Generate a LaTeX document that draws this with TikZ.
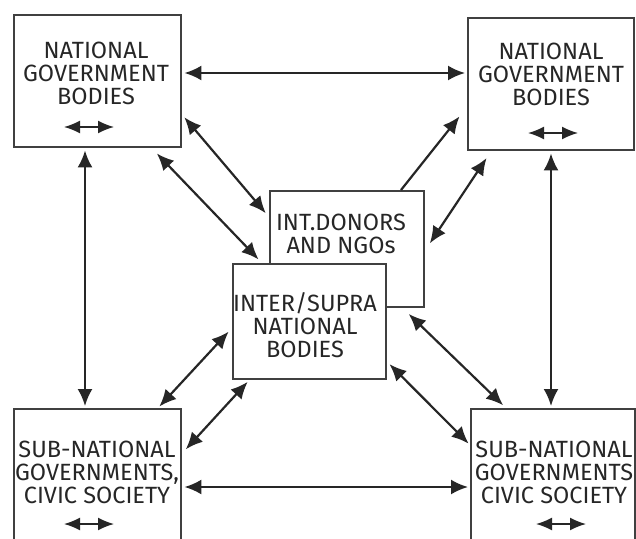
\documentclass[tikz,border=0pt]{standalone}
\usepackage{fontspec}
\setmainfont{Fira Sans}
\usetikzlibrary{arrows.meta}
\tikzset{
  box/.style={draw=black!75, line width=2.4pt, fill=white, anchor=north west, inner sep=0pt},
  lbl/.style={align=center, text=black!85, inner sep=0pt, font=\fontsize{23.5}{23}\selectfont},
  link/.style={draw=black!85, line width=2.2pt, {Latex[length=17pt,width=15pt]}-{Latex[length=17pt,width=15pt]}},
  oneway/.style={draw=black!85, line width=2.2pt, -{Latex[length=17pt,width=15pt]}},
  mini/.style={draw=black!85, line width=1.6pt, {Latex[length=16pt,width=13pt]}-{Latex[length=16pt,width=13pt]}}
}
\begin{document}
\begin{tikzpicture}[x=1pt, y=-1pt]
\useasboundingbox (0,0) rectangle (636,538);
\clip (0,0) rectangle (636,538);
% boxes
\node[box, minimum width=167pt, minimum height=132pt] (tl) at (13,14) {};
\node[box, minimum width=166pt, minimum height=132pt] (tr) at (467,17) {};
\node[box, minimum width=167pt, minimum height=140pt] (bl) at (13,408) {};
\node[box, minimum width=164pt, minimum height=140pt] (br) at (470,408) {};
\node[box, minimum width=154pt, minimum height=116pt] (donors) at (269,190) {};
\node[box, minimum width=153pt, minimum height=115pt] (inter) at (232,263) {};
% labels
\node[lbl] (tltext) at (96,73.5) {NATIONAL\\GOVERNMENT\\BODIES};
\node[lbl] (trtext) at (551,74) {NATIONAL\\GOVERNMENT\\BODIES};
\node[lbl] (donorstext) at (341,233.5) {INT.DONORS\\AND NGOs};
\node[lbl] (intertext) at (305,325) {INTER/SUPRA\\NATIONAL\\BODIES};
\node[lbl] (bltext) at (97,472.5) {SUB-NATIONAL\\GOVERNMENTS,\\CIVIC SOCIETY};
\node[lbl] (brtext) at (554,472.5) {SUB-NATIONAL\\GOVERNMENTS\\CIVIC SOCIETY};
% links
\draw[link, shorten <=2pt, shorten >=2pt] (tl.east |- 0,73) -- (tr.west |- 0,73);
\draw[link, shorten <=2pt, shorten >=2pt] (bl.east |- 0,487) -- (br.west |- 0,487);
\draw[link, shorten <=2pt, shorten >=2pt] (tl.south -| 85,0) -- (bl.north -| 85,0);
\draw[link, shorten <=2pt, shorten >=2pt] (tr.south -| 551,0) -- (br.north -| 551,0);
\draw[link, shorten <=3pt, shorten >=5pt] (tl.east |- 0,115) -- (donors.west |- 0,217);
\draw[link, shorten <=7pt, shorten >=5pt] (tl.south -| 152,0) -- (inter.north -| 262,0);
\draw[oneway, shorten >=12pt] (donors.north -| 401,0) -- (tr.west |- 0,107);
\draw[link, shorten <=8pt, shorten >=8pt] (tr.south -| 491,0) -- (donors.east |- 0,250);
\draw[link, shorten <=2pt, shorten >=5pt] (bl.north -| 158,0) -- (inter.west |- 0,328);
\draw[link, shorten <=5pt, shorten >=2pt] (bl.east |- 0,453) -- (inter.south -| 249,0);
\draw[link, shorten <=3pt, shorten >=2pt] (inter.east |- 0,362) -- (br.west |- 0,445);
\draw[link, shorten <=8pt, shorten >=4pt] (donors.south -| 403,0) -- (br.north -| 506,0);
% small arrows in the boxes
\foreach \x/\y in {89/127, 553/133, 89/524, 561/524}
  \draw[mini] (\x-25,\y) -- (\x+25,\y);
\end{tikzpicture}
\end{document}
